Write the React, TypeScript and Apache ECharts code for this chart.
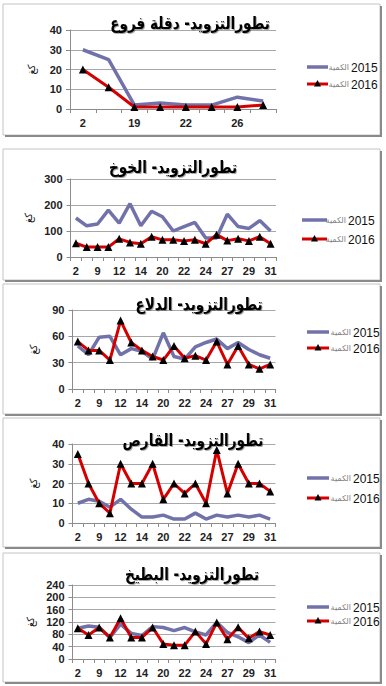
import React, { useEffect, useRef } from "react";
import * as echarts from "echarts";

// ---------- data ----------
const TITLES = [
  "تطورالتزويد- دقلة فروع",
  "تطورالتزويد- الخوخ",
  "تطورالتزويد- الدلاع",
  "تطورالتزويد- القارص",
  "تطورالتزويد- البطيخ",
];
const SERIES_NAMES = ["2015", "2016"];
const LEGEND_WORD = "الكمية";
const Y_NAME = "كغ";

const CATS_DEGLET = ["2", "16", "19", "20", "22", "24", "26", "29"];
const CATS_DAYS = ["2", "5", "9", "10", "12", "13", "14", "16", "20", "21", "22", "23", "24", "26", "27", "28", "29", "30", "31"];

const DEGLET_2015 = [30, 25, 2, 3, 2, 2, 6, 4];
const DEGLET_2016 = [20, 11, 1, 1, 1, 1, 1, 2];

const PEACH_2015 = [150, 120, 127, 180, 130, 205, 120, 176, 155, 100, 117, 133, 73, 73, 165, 117, 110, 140, 100];
const PEACH_2016 = [53, 38, 38, 38, 70, 56, 51, 78, 66, 66, 62, 66, 51, 86, 63, 70, 62, 78, 51];

const MELON_2015 = [49, 39, 59, 60, 39, 46, 43, 34, 64, 37, 34, 48, 53, 57, 46, 53, 45, 39, 35];
const MELON_2016 = [54, 44, 44, 33, 78, 53, 44, 37, 33, 49, 35, 38, 33, 54, 28, 49, 28, 23, 28];

const LEMON_2015 = [10, 12, 11, 8, 12, 7, 3, 3, 4, 2, 2, 5, 2, 4, 3, 4, 3, 4, 2];
const LEMON_2016 = [35, 20, 10, 5, 30, 20, 20, 30, 12, 20, 15, 20, 10, 37, 15, 30, 20, 20, 16];

const WMELON_2015 = [100, 107, 103, 70, 113, 83, 76, 105, 102, 92, 102, 88, 78, 119, 86, 72, 53, 78, 54];
const WMELON_2016 = [100, 78, 102, 70, 132, 70, 70, 102, 49, 45, 45, 89, 49, 118, 64, 103, 67, 89, 78];

const Y_MAX = [40, 300, 90, 40, 240];
const Y_STEP = [10, 100, 30, 10, 40];

const PANEL_CATS = [CATS_DEGLET, CATS_DAYS, CATS_DAYS, CATS_DAYS, CATS_DAYS];
const PANEL_2015 = [DEGLET_2015, PEACH_2015, MELON_2015, LEMON_2015, WMELON_2015];
const PANEL_2016 = [DEGLET_2016, PEACH_2016, MELON_2016, LEMON_2016, WMELON_2016];

// ---------- layout ----------
const BOXES = [
  [3, 4, 377, 131],
  [3, 149, 377, 131],
  [3, 284, 377, 130],
  [3, 418, 377, 129],
  [3, 553, 377, 129],
];
const GRIDS = [
  { left: 70, width: 206, top: 30, height: 79 },
  { left: 70.5, width: 205.5, top: 179, height: 78 },
  { left: 72.5, width: 203, top: 310, height: 79 },
  { left: 72.5, width: 203, top: 444, height: 79 },
  { left: 72.5, width: 203, top: 585, height: 74 },
];
const TITLE_POS = [
  [190, 23],
  [173, 167],
  [199, 304],
  [193, 440],
  [192, 574],
];
// legend: icon x-start, icon x-end, number x-start, row y centers
const LEGEND_POS = [
  { x0: 307, x1: 328, tx: 351, ys: [67, 84] },
  { x0: 302, x1: 327, tx: 348, ys: [220, 239] },
  { x0: 307, x1: 329, tx: 353, ys: [332, 348] },
  { x0: 307, x1: 329, tx: 353, ys: [478, 498] },
  { x0: 307, x1: 329, tx: 353, ys: [607, 621] },
];

const C15 = "#7272ab";
const C16 = "#d40000";
const AXIS_C = "#8c8c8c";
const GRID_C = "#a8a8a8";
const LABEL_FONT = "Liberation Sans";
const AR_FONT = "DejaVu Sans";

export default function App() {
  const ref = useRef<HTMLDivElement>(null);

  useEffect(() => {
    document.body.style.margin = "0";
    if (!ref.current) return;
    const chart = echarts.init(ref.current, undefined, { renderer: "svg" });

    const grid = GRIDS.map((g) => ({ ...g, containLabel: false }));
    const xAxis = PANEL_CATS.map((cats, i) => ({
      type: "category",
      gridIndex: i,
      data: cats,
      boundaryGap: true,
      axisLine: { show: true, lineStyle: { color: AXIS_C, width: 1 } },
      axisTick: { show: true, interval: 0, length: 4, lineStyle: { color: AXIS_C } },
      axisLabel: {
        interval: 1,
        margin: 8,
        color: "#222",
        fontSize: 11,
        fontWeight: "bold",
        fontFamily: LABEL_FONT,
      },
      splitLine: { show: false },
    }));
    const yAxis = Y_MAX.map((mx, i) => ({
      type: "value",
      gridIndex: i,
      min: 0,
      max: mx,
      interval: Y_STEP[i],
      name: Y_NAME,
      nameLocation: "middle",
      nameGap: 34,
      nameRotate: 90,
      nameTextStyle: { fontSize: 10, color: "#111", fontFamily: AR_FONT },
      axisLine: { show: true, lineStyle: { color: AXIS_C, width: 1 } },
      axisTick: { show: true, length: 4, lineStyle: { color: AXIS_C } },
      axisLabel: {
        margin: 8,
        color: "#222",
        fontSize: 11,
        fontWeight: "bold",
        fontFamily: LABEL_FONT,
      },
      splitLine: { show: true, lineStyle: { color: GRID_C, width: 1 } },
    }));

    const series: any[] = [];
    for (let i = 0; i < 5; i++) {
      series.push({
        name: SERIES_NAMES[0],
        type: "line",
        xAxisIndex: i,
        yAxisIndex: i,
        data: PANEL_2015[i],
        symbol: "none",
        lineStyle: { color: C15, width: 3.5 },
        itemStyle: { color: C15 },
        z: 2,
      });
      series.push({
        name: SERIES_NAMES[1],
        type: "line",
        xAxisIndex: i,
        yAxisIndex: i,
        data: PANEL_2016[i],
        symbol: "triangle",
        symbolSize: 8,
        showSymbol: true,
        showAllSymbol: true,
        lineStyle: { color: C16, width: 3 },
        itemStyle: { color: "#000" },
        z: 3,
      });
    }

    const graphic: any[] = [];
    BOXES.forEach(([x, y, w, h]) => {
      graphic.push({
        type: "rect",
        z: -20,
        shape: { x, y, width: w, height: h },
        style: { fill: "#fff", stroke: "#c4c4c4", lineWidth: 1 },
        silent: true,
      });
      graphic.push({
        type: "line",
        z: -19,
        shape: { x1: x + w + 1, y1: y + 2, x2: x + w + 1, y2: y + h + 2 },
        style: { stroke: "#8a8a8a", lineWidth: 2 },
        silent: true,
      });
      graphic.push({
        type: "line",
        z: -19,
        shape: { x1: x + 2, y1: y + h + 1, x2: x + w + 2, y2: y + h + 1 },
        style: { stroke: "#8a8a8a", lineWidth: 2 },
        silent: true,
      });
    });
    TITLE_POS.forEach(([x, y], i) => {
      graphic.push({
        type: "text",
        z: 50,
        x,
        y,
        scaleX: 0.8,
        silent: true,
        style: {
          text: TITLES[i],
          align: "center",
          verticalAlign: "middle",
          fontSize: 17,
          fontWeight: "bold",
          fontFamily: AR_FONT,
          fill: "#000",
          textShadowColor: "rgba(0,0,0,0.35)",
          textShadowOffsetX: 1,
          textShadowOffsetY: 1,
          textShadowBlur: 1,
        },
      });
    });
    // legends
    LEGEND_POS.forEach((p) => {
      p.ys.forEach((yy, k) => {
        const col = k === 0 ? C15 : C16;
        graphic.push({
          type: "line",
          z: 40,
          silent: true,
          shape: { x1: p.x0, y1: yy, x2: p.x1, y2: yy },
          style: { stroke: col, lineWidth: k === 0 ? 3.5 : 3 },
        });
        if (k === 1) {
          const cx = (p.x0 + p.x1) / 2;
          graphic.push({
            type: "polygon",
            z: 41,
            silent: true,
            shape: { points: [[cx, yy - 4], [cx - 3.5, yy + 2.5], [cx + 3.5, yy + 2.5]] },
            style: { fill: "#000" },
          });
        }
        graphic.push({
          type: "text",
          z: 40,
          silent: true,
          x: p.tx - 2,
          y: yy,
          style: {
            text: LEGEND_WORD,
            align: "right",
            verticalAlign: "middle",
            fontSize: 8,
            fontFamily: AR_FONT,
            fill: "#808080",
          },
        });
        graphic.push({
          type: "text",
          z: 40,
          silent: true,
          x: p.tx,
          y: yy + 0.5,
          style: {
            text: SERIES_NAMES[k],
            align: "left",
            verticalAlign: "middle",
            fontSize: 12,
            fontFamily: LABEL_FONT,
            fill: "#111",
          },
        });
      });
    });

    chart.setOption({
      animation: false,
      backgroundColor: "#fff",
      grid,
      xAxis,
      yAxis,
      series,
      graphic,
    });

    return () => chart.dispose();
  }, []);

  return <div ref={ref} style={{ width: 386, height: 686 }} />;
}
